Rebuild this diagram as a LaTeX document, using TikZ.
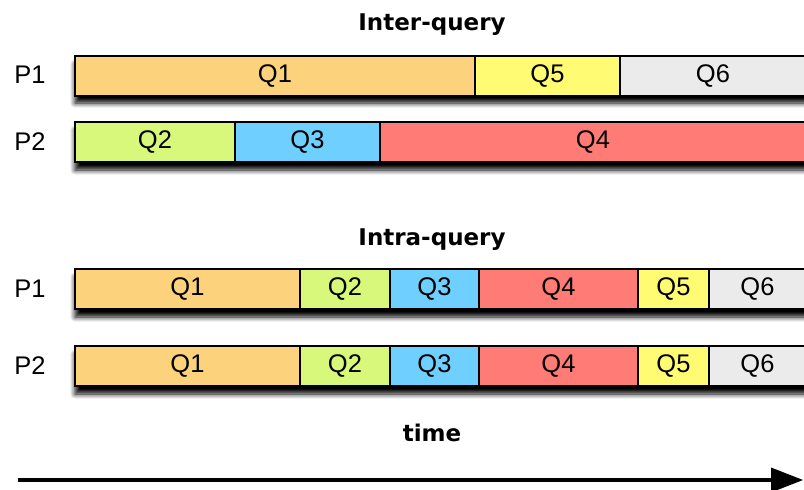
\documentclass[tikz,border=0pt]{standalone}
\usepackage{fontspec}
\setmainfont{Liberation Sans}
\newfontfamily\titlefont{DejaVu Sans}
\usetikzlibrary{arrows.meta,shadows.blur}

\definecolor{cqone}{HTML}{FCD27C}
\definecolor{cqtwo}{HTML}{D7F87B}
\definecolor{cqthree}{HTML}{6FCFFF}
\definecolor{cqfour}{HTML}{FF7B75}
\definecolor{cqfive}{HTML}{FFFB72}
\definecolor{cqsix}{HTML}{EBEBEB}

\tikzset{
  qbox/.style={draw=black, line width=2pt, rectangle, inner sep=0pt, outer sep=0pt,
    anchor=north west, minimum height=40pt, font=\fontsize{25.5}{25.5}\selectfont},
  rowshadow/.style={blur shadow={shadow xshift=0pt, shadow yshift=-8pt,
    shadow blur radius=5pt, shadow blur steps=8, shadow opacity=100}},
  plabel/.style={font=\fontsize{25.5}{25.5}\selectfont, inner sep=0pt},
  heading/.style={font=\titlefont\bfseries\fontsize{23}{23}\selectfont, inner sep=0pt}
}

% place a box of the given width whose top left corner is at (x,y)
\newcommand\qboxat[6]{%
  \node[qbox, fill=#4, minimum width=#3pt] (#5) at (#1,#2) {#6};}

\begin{document}
\begin{tikzpicture}[x=1pt,y=-1pt]
  \useasboundingbox (0,0) rectangle (804,490);
  \clip (0,0) rectangle (804,490);

  % headings
  \node[heading] (inter) at (432,25) {Inter-query};
  \node[heading] (intra) at (432,240) {Intra-query};
  \node[heading] (time) at (432,433) {time};

  % processor labels
  \node[plabel] (pa) at (30,75) {P1};
  \node[plabel] (pb) at (30,142) {P2};
  \node[plabel] (pc) at (30,289) {P1};
  \node[plabel] (pd) at (30,366) {P2};

  % row shadows
  \path[rowshadow] (75,56) rectangle (830,95);
  \path[rowshadow] (75,122) rectangle (830,162);
  \path[rowshadow] (75,269) rectangle (830,309);
  \path[rowshadow] (75,346) rectangle (830,386);

  % inter-query schedule
  \qboxat{75}{56}{400}{cqone}{aqone}{Q1}
  \qboxat{475}{56}{145}{cqfive}{aqfive}{Q5}
  \qboxat{620}{56}{186}{cqsix}{aqsix}{Q6}

  \qboxat{75}{122}{160}{cqtwo}{bqtwo}{Q2}
  \qboxat{235}{122}{145}{cqthree}{bqthree}{Q3}
  \qboxat{380}{122}{426}{cqfour}{bqfour}{Q4}

  % intra-query schedule
  \qboxat{75}{269}{225}{cqone}{cqone}{Q1}
  \qboxat{300}{269}{90}{cqtwo}{cqtwo}{Q2}
  \qboxat{390}{269}{89}{cqthree}{cqthree}{Q3}
  \qboxat{479}{269}{159}{cqfour}{cqfour}{Q4}
  \qboxat{638}{269}{71}{cqfive}{cqfive}{Q5}
  \qboxat{709}{269}{97}{cqsix}{cqsix}{Q6}

  \qboxat{75}{346}{225}{cqone}{dqone}{Q1}
  \qboxat{300}{346}{90}{cqtwo}{dqtwo}{Q2}
  \qboxat{390}{346}{89}{cqthree}{dqthree}{Q3}
  \qboxat{479}{346}{159}{cqfour}{dqfour}{Q4}
  \qboxat{638}{346}{71}{cqfive}{dqfive}{Q5}
  \qboxat{709}{346}{97}{cqsix}{dqsix}{Q6}

  % time axis
  \coordinate (tstart) at (18,480);
  \coordinate (tend) at (803,480);
  \draw[line width=4pt, -{Triangle[length=32pt,width=25pt,fill=black,line width=0pt]}] (tstart) -- (tend);
\end{tikzpicture}
\end{document}
